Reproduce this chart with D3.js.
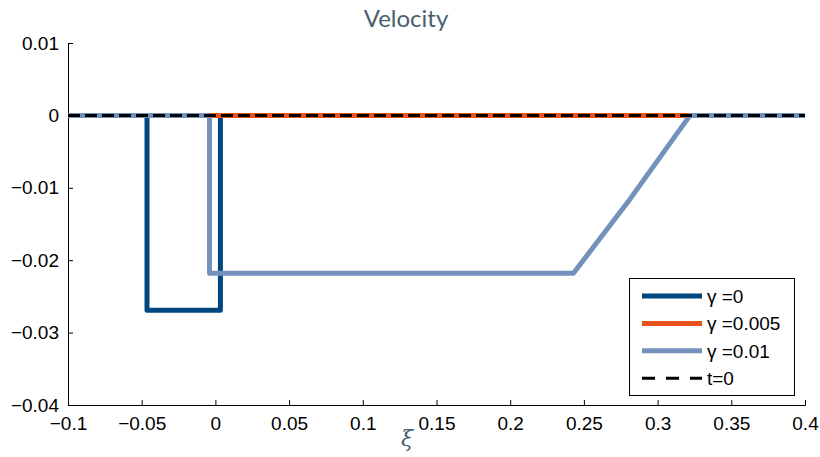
<!DOCTYPE html>
<html>
<head>
<meta charset="utf-8">
<script src="https://cdn.jsdelivr.net/npm/d3@7"></script>
<style>
  body { margin: 0; background: #fff; }
  svg { display: block; }
  .lbl { font-family: "Liberation Sans", Arimo, Helvetica, Arial, sans-serif; font-size: 19px; }
</style>
</head>
<body>
<script>
var width = 820,
    height = 457;

// gamma = 0
var g0X = [-0.1, -0.0464, -0.0464, 0.0034, 0.0034, 0.4];
var g0Y = [0, 0, -0.0269, -0.0269, 0, 0];
// gamma = 0.005
var g5X = [-0.1, 0.4];
var g5Y = [0, 0];
// gamma = 0.01
var g10X = [-0.1, -0.0040, -0.0040, 0.2429, 0.2815, 0.3220, 0.4];
var g10Y = [0, 0, -0.0218, -0.0218, -0.0115, 0, 0];
// t = 0
var t0X = [-0.1, 0.4];
var t0Y = [0, 0];

var xTicks = [-0.1, -0.05, 0, 0.05, 0.1, 0.15, 0.2, 0.25, 0.3, 0.35, 0.4];
var yTicks = [-0.04, -0.03, -0.02, -0.01, 0, 0.01];
var legendNames = ["γ =0", "γ =0.005", "γ =0.01", "t=0"];
var colors = ["#00467f", "#e8521b", "#7391bc", "#000000"];

var svg = d3.select("body").append("svg")
  .attr("width", width)
  .attr("height", height);

var x = d3.scaleLinear().domain([-0.1, 0.4]).range([68, 805]);
var y = d3.scaleLinear().domain([-0.04, 0.01]).range([405, 43]);

function fmt(d) {
  var s = d3.format("")(+d.toFixed(3));
  return s.replace("-", "\u2212");
}

// axes, ticks pointing inward
var xAxis = svg.append("g")
  .attr("transform", "translate(0," + y(-0.04) + ")")
  .call(d3.axisBottom(x).tickValues(xTicks).tickSize(-5).tickPadding(9).tickFormat(fmt));
var yAxis = svg.append("g")
  .attr("transform", "translate(" + x(-0.1) + ",0)")
  .call(d3.axisLeft(y).tickValues(yTicks).tickSize(-5).tickPadding(9).tickFormat(fmt));

[xAxis, yAxis].forEach(function(a) {
  a.attr("font-family", null).attr("font-size", null);
  a.select(".domain").attr("stroke", "#000").attr("stroke-width", 1);
  a.selectAll(".tick line").attr("stroke", "#000");
  a.selectAll("text").attr("fill", "#000").attr("class", "lbl");
});
xAxis.selectAll("text").attr("dy", "0.85em");

var line = d3.line()
  .x(function(d) { return x(d[0]); })
  .y(function(d) { return y(d[1]); });

var series = [
  {xs: g0X, ys: g0Y, w: 5, dash: null},
  {xs: g5X, ys: g5Y, w: 5, dash: null},
  {xs: g10X, ys: g10Y, w: 5, dash: null},
  {xs: t0X, ys: t0Y, w: 3, dash: "12,5"}
];

series.forEach(function(s, i) {
  var pts = s.xs.map(function(v, j) { return [v, s.ys[j]]; });
  svg.append("path")
    .datum(pts)
    .attr("d", line)
    .attr("fill", "none")
    .attr("stroke", colors[i])
    .attr("stroke-width", s.w)
    .attr("stroke-linejoin", "round")
    .attr("stroke-dasharray", s.dash);
});

// title
svg.append("text")
  .attr("x", 406)
  .attr("y", 27)
  .attr("text-anchor", "middle")
  .attr("font-family", "Lato, Open Sans, sans-serif")
  .attr("font-size", 24)
  .attr("fill", "#4a5f6e")
  .text("Velocity");

// x label
svg.append("text")
  .attr("x", 407)
  .attr("y", 446)
  .attr("text-anchor", "middle")
  .attr("font-family", "DejaVu Serif, Liberation Serif, serif")
  .attr("font-style", "italic")
  .attr("font-size", 22)
  .attr("fill", "#4a5f6e")
  .text("ξ");

// legend
var legend = svg.append("g");
legend.append("rect")
  .attr("x", 629.5)
  .attr("y", 278.5)
  .attr("width", 165)
  .attr("height", 117)
  .attr("fill", "#fff")
  .attr("stroke", "#000")
  .attr("stroke-width", 1);

legendNames.forEach(function(name, i) {
  var ly = 296 + i * 27.4;
  legend.append("line")
    .attr("x1", 642).attr("x2", 702)
    .attr("y1", ly).attr("y2", ly)
    .attr("stroke", colors[i])
    .attr("stroke-width", i == 3 ? 3 : 5)
    .attr("stroke-dasharray", i == 3 ? "13,11" : null);
  legend.append("text")
    .attr("class", "lbl")
    .attr("x", 707)
    .attr("y", ly)
    .attr("dy", "0.36em")
    .text(name);
});
</script>
</body>
</html>
